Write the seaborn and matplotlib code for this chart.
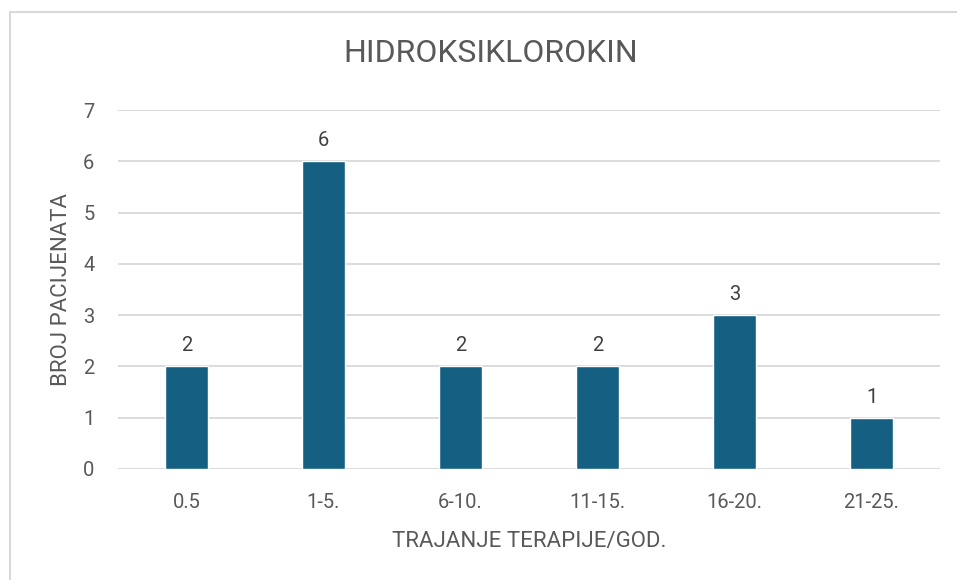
import matplotlib
matplotlib.use("Agg")
import matplotlib.pyplot as plt
import seaborn as sns
import pandas as pd
from matplotlib.lines import Line2D

categories = ["0.5", "1-5.", "6-10.", "11-15.", "16-20.", "21-25."]
values = [2, 6, 2, 2, 3, 1]
yticks = [0, 1, 2, 3, 4, 5, 6, 7]

sns.set_theme(style="white")
plt.rcParams['font.family'] = ['Roboto', 'DejaVu Sans']

txt = "#595959"
df = pd.DataFrame({"cat": categories, "val": values})

fig = plt.figure(figsize=(9.57, 5.8), dpi=100)
ax = fig.add_axes([118/957, 1-469/580, 822/957, 359/580])
sns.barplot(data=df, x="cat", y="val", color="#156082", width=0.31,
            saturation=1, ax=ax, zorder=3)
ax.set_ylim(0, 7)
ax.set_xlim(-0.5, 5.5)
ax.set_yticks(yticks)
ax.grid(axis="y", color="#d9d9d9", linewidth=1.3, zorder=0)
for s in ax.spines.values():
    s.set_visible(False)
ax.tick_params(axis="both", length=0, labelsize=14.5, colors=txt)
ax.tick_params(axis="x", pad=17)
ax.tick_params(axis="y", pad=17)
for c in ax.containers:
    ax.bar_label(c, padding=8, fontsize=14.5, color="#404040")
ax.set_xlabel("TRAJANJE TERAPIJE/GOD.", fontsize=16, color=txt, labelpad=14)
ax.set_ylabel("BROJ PACIJENATA", fontsize=16, color=txt, labelpad=8)
fig.text(491/957, 1-54/580, "HIDROKSIKLOROKIN", ha="center", va="center",
         fontsize=23, color=txt)
fig.add_artist(Line2D([10/957, 10/957], [0, 1-12/580], transform=fig.transFigure,
                      color="#d9d9d9", linewidth=1.5))
fig.add_artist(Line2D([10/957, 1], [1-12/580, 1-12/580], transform=fig.transFigure,
                      color="#d9d9d9", linewidth=1.5))
fig.savefig("out.png", dpi=100)
